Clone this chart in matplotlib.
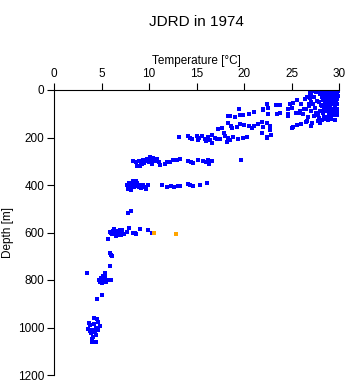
import numpy as np
import matplotlib
matplotlib.use("Agg")
import matplotlib.pyplot as plt

plt.rcParams['font.family'] = ['Liberation Sans', 'DejaVu Sans']

#________________________ DATA ________________________#

# surface layer, 0 - 230 m
temp_upper = [29.5, 29.0, 28.5, 28.0, 29.8, 29.3, 28.8, 28.2, 29.6, 29.0, 28.4, 29.8,
              29.2, 28.6, 29.5, 28.9, 28.3, 29.7, 29.1, 28.5, 29.4, 28.8, 28.2, 29.6,
              29.0, 28.4, 29.3, 28.7, 28.0, 29.5, 28.9, 28.3, 29.0, 28.5, 27.8, 27.2,
              27.6, 27.0, 26.6, 27.4, 26.9, 27.7, 27.3, 26.8, 27.5, 26.5, 27.0, 27.6,
              26.2, 25.8, 28.2, 27.8, 27.2, 27.0, 28.0, 26.5, 26.0, 25.6, 25.2, 25.0,
              26.6, 25.6, 25.2, 24.8, 25.0, 24.6, 24.6, 24.6, 25.5, 25.9, 26.3, 26.8,
              26.0, 23.8, 23.4, 22.4, 22.0, 22.0, 22.5, 23.8, 22.5, 23.5, 21.0, 20.5,
              19.9, 19.6, 19.5, 18.5, 18.3, 19.0, 21.9, 22.4, 22.7, 22.0, 21.5, 21.0,
              20.5, 20.0, 19.6, 19.3, 20.8, 18.3, 18.6, 18.7, 17.7, 17.3, 22.7, 17.9,
              21.9, 22.8, 22.4, 22.4, 13.2, 14.1, 14.3, 14.5, 15.0, 15.3, 15.6, 15.9,
              16.2, 16.4, 16.6, 16.0, 16.9, 17.2, 17.5, 18.0, 18.3, 18.5, 18.8, 18.2,
              19.4, 19.9, 20.3, 16.6, 15.2, 29.9, 29.9, 29.7, 29.2, 28.6,
              # extra points filling the warm, well mixed block
              29.8, 29.4, 29.0, 28.6, 28.2, 29.8, 29.4, 29.0, 28.6, 28.2, 29.8, 29.4,
              29.0, 28.6, 29.8, 29.4, 29.0, 28.6, 29.8, 29.4, 29.0, 28.6, 29.8, 29.4,
              29.0, 28.7, 29.6, 29.2, 28.8, 29.6, 29.2, 28.8, 28.1, 28.4, 28.0, 27.9,
              26.9, 26.4, 27.1, 27.9, 27.4, 26.7]
depth_upper = [5, 5, 5, 5, 10, 12, 15, 12, 20, 22, 25, 30,
               32, 35, 40, 45, 42, 50, 55, 52, 60, 65, 68, 70,
               75, 78, 85, 88, 90, 95, 100, 98, 108, 112, 105, 5,
               8, 20, 28, 30, 35, 45, 60, 68, 75, 82, 90, 95,
               100, 95, 125, 132, 140, 152, 140, 135, 142, 148, 155, 160,
               130, 42, 55, 60, 75, 80, 100, 108, 98, 90, 80, 58,
               60, 62, 63, 59, 78, 84, 76, 97, 101, 101, 93, 101,
               105, 105, 80, 109, 109, 114, 135, 140, 150, 155, 145, 150,
               152, 148, 145, 155, 160, 140, 150, 158, 160, 164, 168, 181,
               181, 189, 198, 202, 198, 192, 200, 208, 192, 200, 195, 205,
               198, 212, 190, 215, 200, 205, 208, 192, 200, 210, 196, 218,
               208, 202, 198, 223, 212, 3, 25, 45, 115, 120,
               18, 18, 18, 18, 18, 38, 38, 38, 38, 30, 58, 58,
               58, 62, 80, 80, 80, 72, 92, 92, 92, 84, 105, 105,
               112, 118, 2, 2, 8, 125, 122, 128, 62, 112, 18, 50,
               12, 38, 50, 118, 108, 112]

# ~300 m
temp_300 = [8.3, 8.6, 8.9, 9.0, 9.2, 9.4, 9.6, 9.8, 10.0, 10.2, 10.4, 10.6, 10.8,
            11.0, 9.3, 8.7, 10.1, 11.2, 11.7, 11.9, 12.2, 12.5, 12.9, 13.3, 14.1,
            14.4, 14.6, 15.2, 15.7, 16.0, 16.3, 16.6, 16.2, 19.7, 9.5, 10.3]
depth_300 = [300, 305, 298, 318, 310, 295, 300, 290, 305, 296, 288, 300, 292,
             302, 312, 322, 284, 316, 312, 305, 302, 295, 296, 290, 298,
             302, 306, 295, 300, 305, 312, 300, 296, 295, 306, 310]

# ~400 m
temp_400 = [7.7, 7.9, 8.0, 8.2, 8.4, 8.5, 8.7, 8.8, 9.0, 9.2, 7.8, 8.1, 8.6, 9.4,
            9.6, 9.9, 9.7, 11.4, 11.9, 12.3, 12.6, 13.0, 13.3, 14.1, 14.3, 14.6,
            15.4, 16.1, 8.3, 8.9]
depth_400 = [400, 390, 405, 395, 410, 400, 392, 405, 398, 412, 415, 420, 382, 402,
             410, 398, 418, 400, 408, 405, 408, 404, 406, 395, 402, 406,
             400, 392, 385, 408]

# ~600 m
temp_600 = [6.0, 6.2, 6.4, 6.6, 6.8, 7.0, 7.2, 6.5, 6.9, 7.4, 7.7, 6.3, 7.1, 5.9,
            7.9, 8.3, 8.6, 8.5, 9.0, 9.9, 10.3, 6.7, 6.1]
depth_600 = [600, 592, 605, 595, 610, 600, 590, 615, 588, 605, 598, 585, 612, 598,
             581, 602, 608, 600, 585, 590, 600, 602, 608]

# scattered points between the layers
temp_mid = [7.8, 8.1, 5.7, 5.9, 6.0, 6.1, 5.9, 5.4, 3.5, 5.0, 4.5]
depth_mid = [518, 509, 628, 688, 695, 700, 741, 770, 772, 863, 880]

# ~800 m
temp_800 = [4.7, 4.9, 5.1, 5.3, 5.5, 5.7, 5.0, 5.4, 6.0, 4.8, 5.2]
depth_800 = [800, 790, 805, 795, 810, 800, 812, 788, 798, 808, 783]

# ~1000 m
temp_1000 = [3.6, 3.8, 4.0, 4.2, 4.4, 4.6, 4.8, 3.9, 4.1, 4.3, 4.5, 3.7, 4.2, 4.0,
             4.4, 4.0, 4.4, 3.8, 4.6]
depth_1000 = [1005, 990, 1010, 985, 1000, 975, 995, 1025, 1040, 1020, 965, 980, 960,
              1050, 1030, 1060, 1060, 1015, 1010]

# flagged points (orange)
temp_flag = [10.5, 12.8]
depth_flag = [600, 606]

#________________________ PLOTTING ________________________#

T = np.concatenate([temp_upper, temp_300, temp_400, temp_600, temp_mid, temp_800, temp_1000])
D = np.concatenate([depth_upper, depth_300, depth_400, depth_600, depth_mid, depth_800, depth_1000])

fig = plt.figure(figsize=(3.48, 3.84), dpi=100)
ax = fig.add_axes([54/348, 1-375/384, 285/348, 285/384])

ax.scatter(T, D, s=5, marker='s', c='#0000ff', linewidths=0)
ax.scatter(temp_flag, depth_flag, s=5, marker='s', c='#ffa500', linewidths=0)

ax.set_xlim(0, 30)
ax.set_ylim(1200, 0)
ax.set_xticks([0, 5, 10, 15, 20, 25, 30])
ax.set_yticks([0, 200, 400, 600, 800, 1000, 1200])

ax.xaxis.set_ticks_position('top')
ax.xaxis.set_label_position('top')
ax.spines['right'].set_visible(False)
ax.spines['bottom'].set_visible(False)
ax.tick_params(axis='both', direction='out', length=5, width=0.8, labelsize=8.5, pad=2)
ax.set_xlabel("Temperature [°C]", fontsize=8.5, labelpad=3)
ax.set_ylabel("Depth [m]", fontsize=8.5, labelpad=3)

fig.text(196.5/348, 1-22/384, "JDRD in 1974", ha='center', va='center', fontsize=11)

fig.savefig("out.png", dpi=100)
